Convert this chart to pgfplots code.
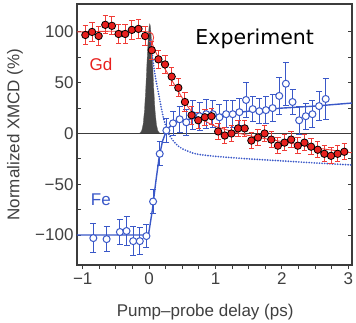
\documentclass[border=0pt]{standalone}
\usepackage{pgfplots}
\usepackage{pgfplotstable}
\pgfplotsset{compat=1.18}
\usepackage{fontspec}
\setmainfont{Liberation Sans}
\newfontfamily\djv{DejaVu Sans}
\definecolor{gdred}{RGB}{232,32,30}
\definecolor{gdbar}{RGB}{240,60,55}
\definecolor{feblue}{RGB}{58,88,200}
\definecolor{axgray}{RGB}{60,60,60}
\newcommand\fs{\fontsize{17}{20}\selectfont}
\pgfplotstableread{
x y e
-0.96 97 9
-0.86 100 9
-0.76 96 9
-0.66 107 9
-0.56 106 9
-0.46 98 9
-0.36 98 9
-0.26 102 9
-0.16 103 9
-0.06 96 9
0.04 82 9
0.14 73 9
0.24 68 9
0.34 56 9
0.44 45 9
0.54 31 9
0.64 18 9
0.74 13 8
0.84 16 8
0.94 17 8
1.04 2 8
1.14 -2 8
1.24 0 8
1.34 5 8
1.44 5 8
1.54 -7 8
1.64 -4 8
1.74 0 8
1.84 -6 8
1.94 -12 8
2.04 -9 8
2.14 -6 8
2.24 -12 8
2.34 -9 8
2.44 -13 8
2.54 -16 8
2.64 -20 8
2.74 -22 8
2.84 -20 8
2.94 -18 8
}\gd
\pgfplotstableread{
x y e
-0.84 -103 14
-0.64 -104 12
-0.44 -97 12
-0.34 -96 14
-0.24 -106 14
-0.14 -106 13
-0.04 -101 11
0.06 -67 12
0.16 -20 12
0.26 3 12
0.36 10 12
0.46 14 13
0.56 11 13
0.66 18 14
0.76 17 14
0.86 19 14
0.96 19 13
1.06 16 13
1.16 19 13
1.26 19 13
1.36 21 13
1.46 33 17
1.56 24 12
1.66 22 12
1.76 23 13
1.86 25 13
1.96 37 18
2.06 49 21
2.16 31 12
2.26 13 14
2.36 17 13
2.46 19 13
2.56 27 14
2.66 34 20
}\fe
\begin{document}
\begin{tikzpicture}
\begin{axis}[
  scale only axis, width=275pt, height=261pt,
  xmin=-1.086, xmax=3.056, ymin=-129.5, ymax=127.5,
  axis line style={axgray, line width=1.1pt},
  xtick={-1,0,1,2,3}, xticklabels={−1,0,1,2,3},
  ytick={-100,-50,0,50,100}, yticklabels={−100,−50,0,50,100},
  minor x tick num=3, minor y tick num=1,
  tick align=inside, xtick pos=left, ytick pos=both,
  major tick length=4pt, minor tick length=4pt,
  tick style={axgray, line width=0.9pt},
  x tick style={yshift=-4pt},
  tick label style={font=\fs, text=black!75},
  xticklabel style={yshift=-4pt},
  xlabel={Pump–probe delay (ps)},
  ylabel={Normalized XMCD (\%)},
  every axis x label/.style={at={(axis description cs:0.466,-0.197)}, anchor=base, font=\fs, text=black!75},
  every axis y label/.style={at={(axis description cs:-0.2255,0.5)}, rotate=90, anchor=center, font=\fs, text=black!75},
]
% pump pulse
\addplot[fill=black!72, draw=black!60, line width=0.3pt] coordinates {
(-0.15,0) (-0.13,0.9) (-0.11,3.1) (-0.09,9.1) (-0.07,22.2) (-0.05,44.4) (-0.03,72.8)
(-0.01,97.8) (0.0,105.4) (0.01,108) (0.02,105.4) (0.03,97.8) (0.05,72.8) (0.07,44.4)
(0.09,22.2) (0.11,9.1) (0.13,3.1) (0.15,0.9) (0.17,0)} -- cycle;
% zero line
\addplot[axgray, line width=1pt] coordinates {(-1.086,0) (3.056,0)};
% dotted blue curve
\addplot[feblue, line width=1.9pt, line cap=round, dash pattern=on 0pt off 2.6pt, smooth] coordinates {
(0.02,92) (0.07,66) (0.11,50) (0.15,37) (0.19,23) (0.23,12) (0.3,-1) (0.4,-10) (0.5,-15)
(0.7,-20) (1.0,-22.5) (1.5,-25) (2.0,-27) (2.5,-29) (3.056,-31)};
% Fe fit
\addplot[feblue, line width=1.4pt] coordinates {
(-1.086,-100) (-0.01,-100) (0.05,-75) (0.1,-48) (0.15,-24) (0.2,-8) (0.25,1) (0.3,6)
(0.4,11) (0.5,13) (0.7,15) (1.0,18) (1.5,22) (2.0,25) (2.5,27) (3.056,30)};
% Fe data
\addplot[only marks, mark=*, mark size=3.5pt, mark options={draw=feblue, fill=white, line width=1pt},
  error bars/.cd, y dir=both, y explicit,
  error bar style={feblue, line width=1pt},
  error mark options={rotate=90, feblue, mark size=3pt, line width=1pt}]
  table[x=x, y=y, y error=e] {\fe};
% Gd fit
\addplot[gdbar, line width=0.9pt, smooth] coordinates {
(-1.086,100) (-0.02,100) (0.05,88) (0.1,80) (0.2,68) (0.3,57) (0.4,46) (0.5,35) (0.6,25)
(0.7,18) (0.85,12) (1.0,7) (1.2,3) (1.5,-2) (2.0,-8) (2.5,-14) (3.056,-19)};
% Gd data
\addplot[only marks, mark=*, mark size=3.7pt, mark options={fill=gdred, draw=black, line width=0.8pt},
  error bars/.cd, y dir=both, y explicit,
  error bar style={gdbar, line width=1pt},
  error mark options={rotate=90, gdbar, mark size=2.7pt, line width=1pt}]
  table[x=x, y=y, y error=e] {\gd};
\node[text=gdred, font=\fs, anchor=base] at (axis cs:-0.726,61.8) {Gd};
\node[text=feblue, font=\fs, anchor=base] at (axis cs:-0.726,-70.6) {Fe};
\node[font={\djv\fontsize{20.5}{24}\selectfont}, anchor=base] at (axis cs:1.59,88) {Experiment};
\end{axis}
\pgfresetboundingbox
\path[use as bounding box] ([xshift=-77pt,yshift=-57pt]current axis.south west) rectangle ([xshift=4pt,yshift=4pt]current axis.north east);
\end{tikzpicture}
\end{document}
